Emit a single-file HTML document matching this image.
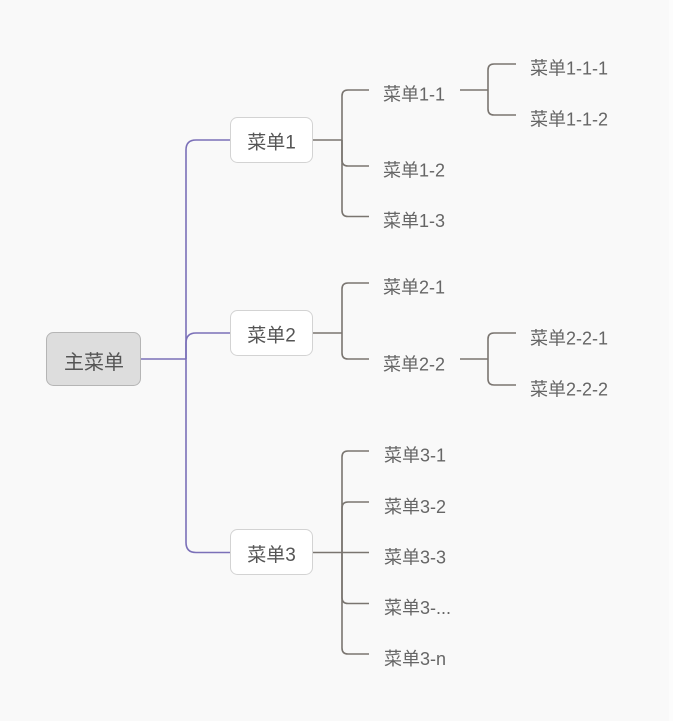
<!DOCTYPE html>
<html><head><meta charset="utf-8"><style>
html,body{margin:0;padding:0;background:#f9f9f9;}
svg{display:block;}
text{font-family:"Liberation Sans","Noto Sans CJK SC",sans-serif;}
</style></head><body>
<svg width="673" height="721" viewBox="0 0 673 721" xmlns="http://www.w3.org/2000/svg">
<rect x="0" y="0" width="673" height="721" fill="#f9f9f9"/>
<rect x="669" y="0" width="4" height="721" fill="#fcfcfc"/>
<!-- purple connectors -->
<g fill="none" stroke="#7b70b8" stroke-width="1.6">
<path d="M140 359 H186"/>
<path d="M186 359 V150 Q186 140 196 140 H231"/>
<path d="M186 359 V343 Q186 333 196 333 H231"/>
<path d="M186 359 V542.5 Q186 552.5 196 552.5 H231"/>
</g>
<!-- gray connectors -->
<g fill="none" stroke="#7a7570" stroke-width="1.6">
<!-- menu1 -->
<path d="M313 140 H342"/>
<path d="M342 140 V96 Q342 90 348 90 H369"/>
<path d="M342 140 V160 Q342 166 348 166 H369"/>
<path d="M342 140 V210.5 Q342 216.5 348 216.5 H369"/>
<path d="M460 90 H488"/>
<path d="M488 90 V70 Q488 64 494 64 H516"/>
<path d="M488 90 V109 Q488 115 494 115 H516"/>
<!-- menu2 -->
<path d="M313 333 H342"/>
<path d="M342 333 V289 Q342 283 348 283 H369"/>
<path d="M342 333 V353 Q342 359 348 359 H369"/>
<path d="M460 359 H488"/>
<path d="M488 359 V339 Q488 333 494 333 H516"/>
<path d="M488 359 V379 Q488 385 494 385 H516"/>
<!-- menu3 -->
<path d="M313 552.5 H369"/>
<path d="M342 552.5 V457 Q342 451 348 451 H369"/>
<path d="M342 552.5 V508 Q342 502 348 502 H369"/>
<path d="M342 552.5 V597.5 Q342 603.5 348 603.5 H369"/>
<path d="M342 552.5 V648 Q342 654 348 654 H369"/>
</g>
<!-- root -->
<rect x="46.5" y="332.5" width="94" height="53" rx="7" fill="#dddddd" stroke="#b5b5b5" stroke-width="1"/>
<text x="94" y="363" font-size="20" fill="#555" text-anchor="middle" dominant-baseline="central">主菜单</text>
<!-- level1 -->
<rect x="230.5" y="117.5" width="82" height="45" rx="7" fill="#fff" stroke="#d3d3d3" stroke-width="1"/>
<text x="271.5" y="143" font-size="19" fill="#555" text-anchor="middle" dominant-baseline="central">菜单1</text>
<rect x="230.5" y="310.5" width="82" height="45" rx="7" fill="#fff" stroke="#d3d3d3" stroke-width="1"/>
<text x="271.5" y="336" font-size="19" fill="#555" text-anchor="middle" dominant-baseline="central">菜单2</text>
<rect x="230.5" y="529.5" width="82" height="45" rx="7" fill="#fff" stroke="#d3d3d3" stroke-width="1"/>
<text x="271.5" y="555.5" font-size="19" fill="#555" text-anchor="middle" dominant-baseline="central">菜单3</text>
<!-- level2 -->
<g font-size="18" fill="#666" dominant-baseline="central">
<text x="383" y="94.5">菜单1-1</text>
<text x="383" y="170.5">菜单1-2</text>
<text x="383" y="221">菜单1-3</text>
<text x="383" y="287.7">菜单2-1</text>
<text x="383" y="364.3">菜单2-2</text>
<text x="384" y="455.5">菜单3-1</text>
<text x="384" y="506.8">菜单3-2</text>
<text x="384" y="557.5">菜单3-3</text>
<text x="384" y="608">菜单3-...</text>
<text x="384" y="659">菜单3-n</text>
<text x="530" y="68.5">菜单1-1-1</text>
<text x="530" y="119.3">菜单1-1-2</text>
<text x="530" y="338.5">菜单2-2-1</text>
<text x="530" y="389.3">菜单2-2-2</text>
</g>
</svg>
</body></html>
